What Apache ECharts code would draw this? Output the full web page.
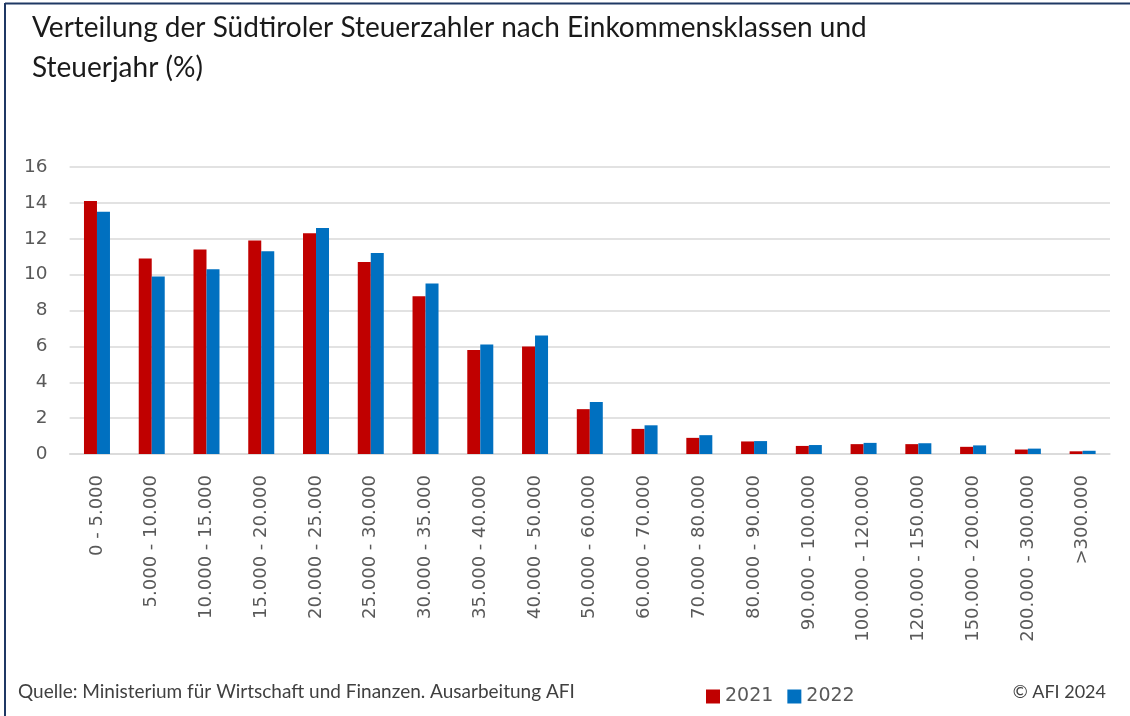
<!DOCTYPE html>
<html>
<head>
<meta charset="utf-8">
<script src="https://cdn.jsdelivr.net/npm/echarts@6/dist/echarts.min.js"></script>
<style>
html,body{margin:0;padding:0;background:#fff;}
#chart{width:1130px;height:716px;}
</style>
</head>
<body>
<div id="chart"></div>
<script>
const categories = ["0 - 5.000","5.000 - 10.000","10.000 - 15.000","15.000 - 20.000","20.000 - 25.000","25.000 - 30.000","30.000 - 35.000","35.000 - 40.000","40.000 - 50.000","50.000 - 60.000","60.000 - 70.000","70.000 - 80.000","80.000 - 90.000","90.000 - 100.000","100.000 - 120.000","120.000 - 150.000","150.000 - 200.000","200.000 - 300.000",">300.000"];
const values2021 = [14.1, 10.9, 11.4, 11.9, 12.3, 10.7, 8.8, 5.8, 6.0, 2.5, 1.4, 0.9, 0.7, 0.45, 0.55, 0.55, 0.4, 0.25, 0.15];
const values2022 = [13.5, 9.9, 10.3, 11.3, 12.6, 11.2, 9.5, 6.1, 6.6, 2.9, 1.6, 1.05, 0.72, 0.5, 0.62, 0.6, 0.48, 0.3, 0.18];
const seriesNames = ["2021", "2022"];
const titleText = "Verteilung der Südtiroler Steuerzahler nach Einkommensklassen und\nSteuerjahr (%)";
const sourceText = "Quelle: Ministerium für Wirtschaft und Finanzen. Ausarbeitung AFI";
const copyrightText = "© AFI 2024";

const chart = echarts.init(document.getElementById('chart'), null, {renderer: 'canvas'});
const labelFont = "'DejaVu Sans', sans-serif";
const textFont = "Lato, 'Noto Sans', sans-serif";
chart.setOption({
  animation: false,
  backgroundColor: '#ffffff',
  title: {
    text: titleText,
    left: 27,
    top: 3,
    textStyle: {fontFamily: textFont, fontSize: 28, fontWeight: 'normal', color: '#1a1a1a', lineHeight: 40}
  },
  legend: {
    data: seriesNames,
    left: 701,
    top: 682,
    icon: 'rect',
    itemWidth: 14,
    itemHeight: 14,
    itemGap: 14,
    textStyle: {fontFamily: labelFont, fontSize: 19, color: '#595959'}
  },
  grid: {left: 69.6, right: 20, top: 167, bottom: 262, containLabel: false},
  xAxis: {
    type: 'category',
    data: categories,
    axisLine: {lineStyle: {color: '#d9d9d9', width: 1.5}},
    axisTick: {show: false},
    axisLabel: {rotate: 90, interval: 0, margin: 21, fontFamily: labelFont, fontSize: 18, color: '#595959'}
  },
  yAxis: {
    type: 'value',
    min: 0,
    max: 16,
    interval: 2,
    axisLine: {show: false},
    axisTick: {show: false},
    axisLabel: {margin: 22, fontFamily: labelFont, fontSize: 18.5, color: '#595959'},
    splitLine: {lineStyle: {color: '#d9d9d9', width: 1.5}}
  },
  series: [
    {name: seriesNames[0], type: 'bar', data: values2021, barWidth: 13, barGap: '0%', itemStyle: {color: '#C00000'}},
    {name: seriesNames[1], type: 'bar', data: values2022, barWidth: 13, barGap: '0%', itemStyle: {color: '#0070C0'}}
  ],
  graphic: [
    {type: 'line', shape: {x1: 5, y1: 3.5, x2: 1130, y2: 3.5}, style: {stroke: '#1f3864', lineWidth: 2}},
    {type: 'line', shape: {x1: 5, y1: 3, x2: 5, y2: 716}, style: {stroke: '#1f3864', lineWidth: 2}},
    {type: 'text', left: 18, top: 682, style: {text: sourceText, font: "19px Lato, 'Noto Sans', sans-serif", fill: '#404040'}},
    {type: 'text', right: 24, top: 683, style: {text: copyrightText, font: "18px Lato, 'Noto Sans', sans-serif", fill: '#404040'}}
  ]
});
</script>
</body>
</html>
